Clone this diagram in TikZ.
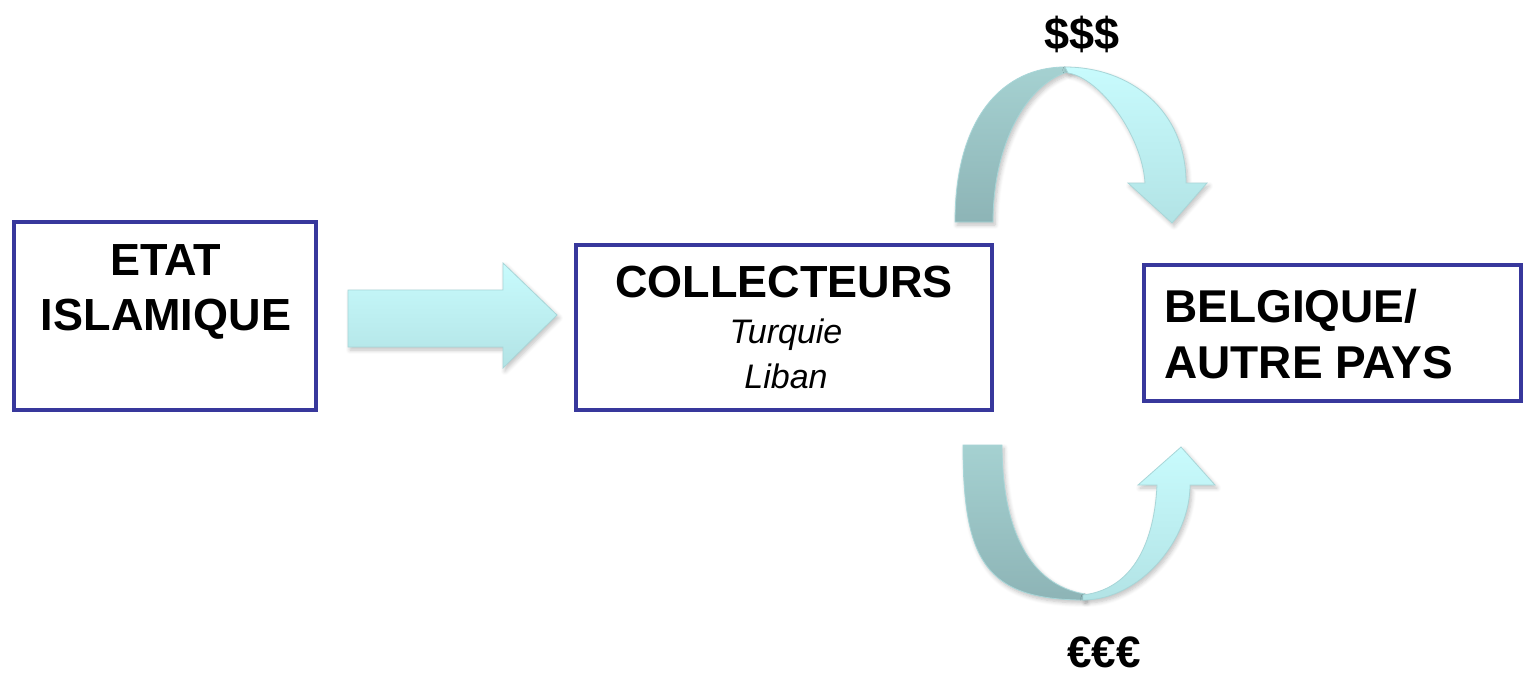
\documentclass[tikz,border=0pt]{standalone}
\usepackage{fontspec}
\setmainfont{Liberation Sans}
\usetikzlibrary{shadows.blur}
\definecolor{boxblue}{RGB}{56,56,156}
\definecolor{lighttop}{RGB}{200,251,253}
\definecolor{lightbot}{RGB}{178,227,229}
\definecolor{darktop}{RGB}{165,209,209}
\definecolor{darkbot}{RGB}{141,180,182}
\definecolor{arrowline}{RGB}{168,214,216}
\tikzset{
  boxframe/.style={draw=boxblue, line width=2pt, fill=white, inner sep=0pt},
  bigtxt/.style={font=\fontsize{22.5pt}{27pt}\selectfont\bfseries, inner sep=0pt, anchor=base},
  smalltxt/.style={font=\fontsize{17pt}{20pt}\selectfont\itshape, inner sep=0pt, anchor=base},
  arrshadow/.style={blur shadow={shadow xshift=1pt, shadow yshift=-1.5pt, shadow blur steps=6, shadow opacity=25}},
  lightpiece/.style={draw=arrowline, line width=0.4pt, top color=lighttop, bottom color=lightbot},
  darkpiece/.style={draw=arrowline, line width=0.4pt, top color=darktop, bottom color=darkbot},
}
\begin{document}
\begin{tikzpicture}[x=0.5pt, y=-0.5pt]
\useasboundingbox (0,0) rectangle (1526,676);

% boxes
\node[boxframe, minimum width=151pt, minimum height=94pt] (etat) at (165,316) {};
\node[boxframe, minimum width=208pt, minimum height=82.5pt] (coll) at (784,327.5) {};
\node[boxframe, minimum width=188.5pt, minimum height=68pt] (belg) at (1332.5,333) {};

% texts
\node[bigtxt] (t1) at (166,275) {ETAT};
\node[bigtxt] (t2) at (166,330) {ISLAMIQUE};
\node[bigtxt] (t3) at (784,297) {COLLECTEURS};
\node[smalltxt] (t4) at (786,343) {Turquie};
\node[smalltxt] (t5) at (786,388) {Liban};
\node[bigtxt, anchor=base west, font=\fontsize{23pt}{27pt}\selectfont\bfseries] (t6) at (1164,322) {BELGIQUE/};
\node[bigtxt, anchor=base west, font=\fontsize{23pt}{27pt}\selectfont\bfseries] (t7) at (1164,378) {AUTRE PAYS};
\node[bigtxt] (dollars) at (1082,49) {\$\$\$};
\node[bigtxt, font=\fontsize{22pt}{25pt}\selectfont\bfseries] (euros) at (1104,667) {€€€};

% straight arrow
\path[lightpiece, arrshadow] (348,290) -- (503,290) -- (503,263) -- (557,315) -- (503,368) -- (503,347) -- (348,347) -- cycle;

% upper curved arrow
\path[darkpiece, arrshadow] (955,222) .. controls (955,115) and (1005,67) .. (1065,67)
  -- (1075,70) .. controls (1030,78) and (993,140) .. (993,222) -- cycle;
\path[lightpiece, arrshadow] (1065,67) .. controls (1130,67) and (1186,110) .. (1186,183)
  -- (1207,183) -- (1172,223) -- (1128,183) -- (1145,183)
  .. controls (1142,135) and (1100,78) .. (1068,73) -- cycle;

% lower curved arrow
\path[darkpiece, arrshadow] (963,445) .. controls (963,560) and (985,600) .. (1085,600)
  -- (1085,594) .. controls (1030,585) and (1002,530) .. (1002,445) -- cycle;
\path[lightpiece, arrshadow] (1083,600) .. controls (1140,600) and (1190,540) .. (1190,485)
  -- (1215,485) -- (1181,447) -- (1138,485) -- (1157,485)
  .. controls (1155,530) and (1140,588) .. (1083,595) -- cycle;
\end{tikzpicture}
\end{document}
